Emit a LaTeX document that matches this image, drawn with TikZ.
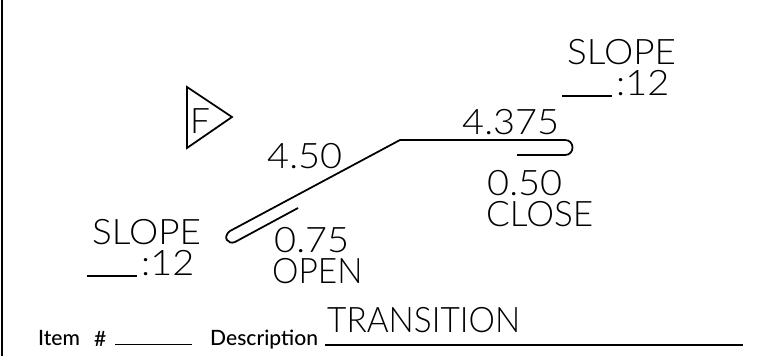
\documentclass[tikz,border=0pt]{standalone}
\usepackage{fontspec}
\setmainfont{Lato Light}
\newfontfamily\itemfont{Lato Medium}
\newfontfamily\widefont[FakeStretch=1.05]{Lato Light}
\newfontfamily\digitfont[FakeStretch=1.08]{Lato Light}
\newfontfamily\narrowfont[FakeStretch=0.95]{Lato Light}
\tikzset{
  caption/.style={anchor=base west,inner sep=0pt,font=\fontsize{30}{30}\selectfont},
  widecaption/.style={caption,font=\widefont\fontsize{30}{30}\selectfont},
  digitcaption/.style={caption,font=\digitfont\fontsize{30}{30}\selectfont},
  narrowcaption/.style={caption,font=\narrowfont\fontsize{30}{30}\selectfont},
  itemtext/.style={anchor=base west,inner sep=0pt,font=\itemfont\fontsize{18}{18}\selectfont},
  outline/.style={line width=1.5pt,line join=miter},
}
\begin{document}
\begin{tikzpicture}[x=0.03cm,y=-0.03cm]
    \useasboundingbox (0,0) rectangle (775,356);
    \draw[line width=2pt] (2,0) -- (2,356);
    \draw[outline] (187,87) -- (232,117) -- (187,148) -- cycle;
    \node[caption] (flag) at (190,133) {F};
    \draw[outline] (298,208) -- (235,242) .. controls (228,245) and (222,237) .. (230,231) -- (400,140) -- (565,140) .. controls (575,140) and (575,155) .. (565,155) -- (517,155);
    \node[digitcaption] (top) at (267,168) {4.50};
    \node[digitcaption] (run) at (462,134) {4.375};
    \node[digitcaption] (close) at (487,195) {0.50};
    \node[caption] (closelabel) at (486,226) {CLOSE};
    \node[digitcaption] (open) at (274,252) {0.75};
    \node[narrowcaption] (openlabel) at (272,283) {OPEN};
    \node[widecaption] (upslope) at (567,64) {SLOPE};
    \node[digitcaption] (upratio) at (616,95) {:12};
    \draw[line width=1.2pt] (562,96) -- (612,96);
    \node[widecaption] (lowslope) at (92,244) {SLOPE};
    \node[digitcaption] (lowratio) at (141,275) {:12};
    \draw[line width=1.2pt] (87,276) -- (137,276);
    \node[itemtext] (item) at (38,345) {Item};
    \node[itemtext] (hash) at (94,346) {\#};
    \draw[line width=0.8pt] (115,344) -- (192,344);
    \node[itemtext] (descr) at (210,345) {Description};
    \draw[line width=2pt] (325,345) -- (743,345);
    \node[narrowcaption] (title) at (327,332) {TRANSITION};
  \end{tikzpicture}
\end{document}
